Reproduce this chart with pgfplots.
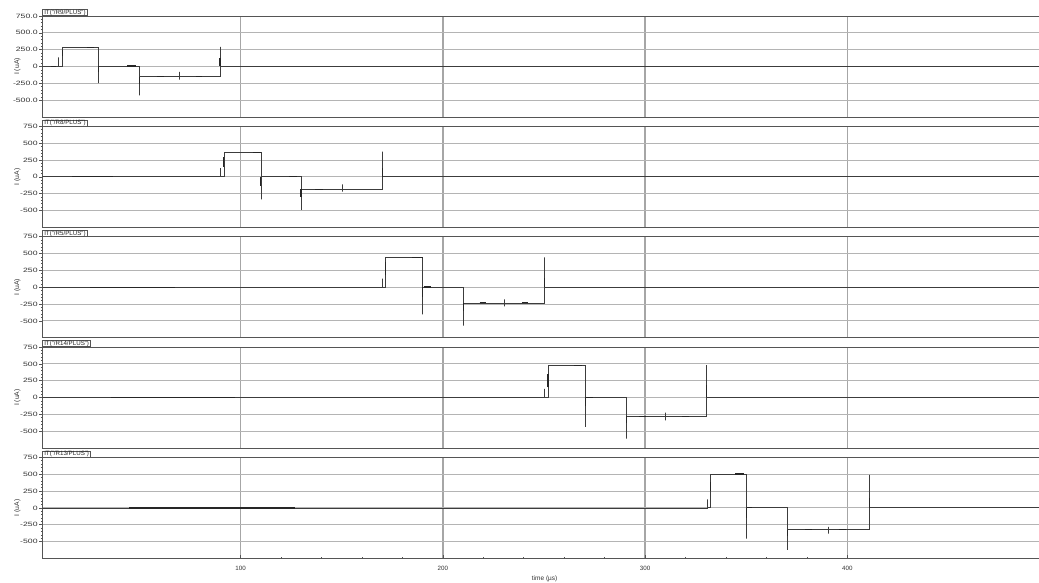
\documentclass[border=0pt]{standalone}
\usepackage{fontspec}
\setmainfont{Liberation Sans}
\usepackage{pgfplots}
\pgfplotsset{compat=1.18}
\definecolor{gridc}{HTML}{B4B4B4}
\definecolor{vgridc}{HTML}{A6A6A6}
\definecolor{framec}{HTML}{555555}
\definecolor{linec}{HTML}{3C3C3C}
\definecolor{darkc}{HTML}{262626}
\pgfplotsset{panel/.style={
  scale only axis, width=996.7pt, height=101pt, anchor=south west,
  xmin=1.9, xmax=494.8, ymin=-750, ymax=750,
  xtick={100,200,300,400}, ytick={-500,-250,0,250,500,750},
  yticklabels={-500,-250,0,250,500,750},
  grid=major,
  major grid style={draw=gridc, line width=0.9pt},
  major x grid style={draw=vgridc, line width=1.6pt},
  axis line style={draw=framec, line width=0.8pt},
  xtick pos=bottom, ytick pos=left,
  ytick align=outside, xtick align=inside,
  minor y tick num=4,
  major tick length=3pt, minor tick length=1.5pt,
  tick style={draw=framec, line width=0.6pt},
  ticklabel style={font=\fontsize{6.2}{7}\selectfont, text=black!80},
  yticklabel style={inner sep=1pt, xscale=1.4, anchor=east},
  ylabel={I (uA)},
  ylabel style={at={(axis description cs:-0.0250,0.5)}, anchor=center, font=\fontsize{6.8}{7}\selectfont, text=black!80},
  unbounded coords=jump,
},
upper/.style={xticklabels={}, x tick style={draw=none}},
main/.style={draw=linec, line width=0.75pt, no marks},
dark/.style={draw=darkc, line width=1.2pt, no marks},
}
\tikzset{tab/.style={draw=framec, fill=white, anchor=south west, line width=0.7pt, inner xsep=1.6pt, inner ysep=0.5pt, text height=4.3pt, text depth=0.7pt, font=\fontsize{6.2}{7}\selectfont, text=black!85}}
\begin{document}
\begin{tikzpicture}
\path[use as bounding box] (0,0) rectangle (1039pt,-582pt);
% Panel 1
\begin{axis}[panel, upper, name=p1, at={(42.3pt,-117pt)},
  yticklabels={-500.0,-250.0,0,250.0,500.0,750.0}]
\addplot[main] coordinates {(1.9,0) (6,0) (6,4) (9.9,4) (9.9,136) (9.9,4) (11.9,4) (11.9,286) (29.7,286) (29.7,-245) (29.7,6) (49.9,6) (49.9,-427) (49.9,-152) (69.8,-152) (69.8,-80) (69.8,-195) (69.8,-152) (89.8,-152) (89.8,292) (89.8,8) (494.8,8)};
\addplot[dark] coordinates {(6,4) (8.5,4) (8.5,nan) (11.9,150) (11.9,250) (11.9,nan) (24.2,286) (27.5,286) (27.5,nan) (29.7,6) (29.7,-80) (29.7,nan) (43.9,6) (48.1,6) (48.1,nan) (49.9,-152) (49.9,-260) (49.9,nan) (58.4,-152) (62,-152) (62,nan) (77.9,-152) (80.9,-152) (80.9,nan) (89.8,8) (89.8,120)};
\end{axis}
% Panel 2
\begin{axis}[panel, upper, name=p2, at={(42.3pt,-227.35pt)}]
\addplot[main] coordinates {(1.9,0) (90.2,0) (90.2,130) (90.2,2) (91.7,2) (91.7,360) (110,360) (110,-334) (110,5) (129.8,5) (129.8,-490) (129.8,-184) (150.3,-184) (150.3,-110) (150.3,-220) (150.3,-184) (170,-184) (170,374) (170,3) (494.8,3)};
\addplot[dark] coordinates {(16.6,0) (37,0) (37,nan) (91.7,150) (91.7,300) (91.7,nan) (105.9,360) (110,360) (110,nan) (110,5) (110,-130) (110,nan) (123.9,5) (128,5) (128,nan) (129.8,-184) (129.8,-300) (129.8,nan) (137,-184) (140.9,-184) (140.9,nan) (170,3) (170,130)};
\end{axis}
% Panel 3
\begin{axis}[panel, upper, name=p3, at={(42.3pt,-337.7pt)}]
\addplot[main] coordinates {(1.9,0) (170,0) (170,128) (170,2) (171.7,2) (171.7,437) (190.1,437) (190.1,-405) (190.1,3) (210,3) (210,-570) (210,-233) (230.5,-233) (230.5,-180) (230.5,-285) (230.5,-233) (250.3,-233) (250.3,442) (250.3,3) (494.8,3)};
\addplot[dark] coordinates {(25.5,0) (67.5,0) (67.5,nan) (171.7,180) (171.7,370) (171.7,nan) (184.9,437) (190,437) (190,nan) (190.1,3) (190.1,-150) (190.1,nan) (190.5,3) (194,3) (194,nan) (210,-233) (210,-350) (210,nan) (218.2,-233) (221.5,-233) (221.5,nan) (239.2,-233) (242.2,-233) (242.2,nan) (250.3,3) (250.3,140)};
\end{axis}
% Panel 4
\begin{axis}[panel, upper, name=p4, at={(42.3pt,-448.05pt)}]
\addplot[main] coordinates {(1.9,0) (250.3,0) (250.3,130) (250.3,2) (252,2) (252,472) (270.5,472) (270.5,-437) (270.5,3) (290.7,3) (290.7,-610) (290.7,-280) (310.2,-280) (310.2,-225) (310.2,-340) (310.2,-280) (330.4,-280) (330.4,482) (330.4,3) (494.8,3)};
\addplot[dark] coordinates {(35.9,0) (97.2,0) (97.2,nan) (252,150) (252,350) (252,nan) (264.8,472) (269,472) (269,nan) (270.5,3) (270.5,-120) (270.5,nan) (270.5,3) (274,3) (274,nan) (290.7,-280) (290.7,-380) (290.7,nan) (296.9,-280) (300.2,-280) (300.2,nan) (318.3,-280) (321.6,-280) (321.6,nan) (330.4,3) (330.4,180)};
\end{axis}
% Panel 5
\begin{axis}[panel, name=p5, at={(42.3pt,-558.4pt)},
  xticklabels={100,200,300,400}, minor x tick num=4,
  xticklabel style={yshift=-4pt},
  xlabel={time (µs)},
  xlabel style={at={(axis description cs:0.504,-0.2)}, anchor=center, font=\fontsize{6.5}{7}\selectfont, text=black!80}]
\addplot[main] coordinates {(1.9,0) (330.7,0) (330.7,127) (330.7,2) (332.3,2) (332.3,503) (350.3,503) (350.3,-458) (350.3,3) (370.5,3) (370.5,-625) (370.5,-326) (390.5,-326) (390.5,-280) (390.5,-381) (390.5,-326) (410.8,-326) (410.8,492) (410.8,3) (494.8,3)};
\addplot[dark] coordinates {(45,0) (127,0) (127,nan) (332.3,250) (332.3,380) (332.3,nan) (344.7,503) (348.8,503) (348.8,nan) (350.3,3) (350.3,-150) (350.3,nan) (350.3,3) (353,3) (353,nan) (370.5,-326) (370.5,-420) (370.5,nan) (379.3,-326) (382.3,-326) (382.3,nan) (395.8,-326) (399.4,-326) (399.4,nan) (410.8,3) (410.8,150)};
\end{axis}
\node[tab] at (p1.north west) {IT("/R9/PLUS")};
\node[tab] at (p2.north west) {IT("/R8/PLUS")};
\node[tab] at (p3.north west) {IT("/R5/PLUS")};
\node[tab] at (p4.north west) {IT("/R14/PLUS")};
\node[tab] at (p5.north west) {IT("/R13/PLUS")};
\end{tikzpicture}
\end{document}
